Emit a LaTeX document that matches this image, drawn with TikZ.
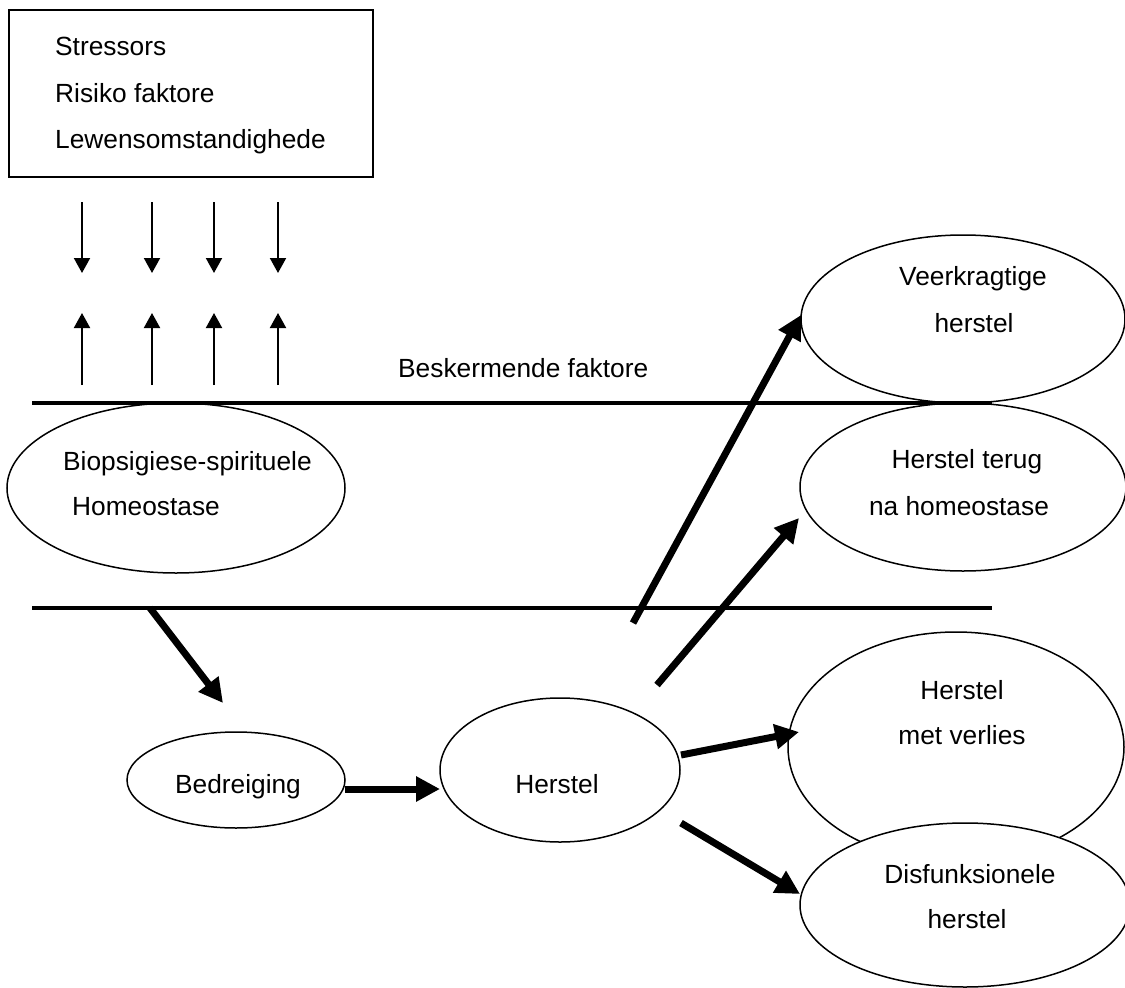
\documentclass[tikz,border=0pt]{standalone}
\usepackage{fontspec}
\setmainfont{Liberation Sans}
\usetikzlibrary{shapes.geometric,arrows.meta}
\begin{document}
\begin{tikzpicture}[x=1pt,y=-1pt,
  txt/.style={font=\fontsize{26.3}{31}\selectfont, inner sep=0pt},
  oval/.style={draw, ellipse, line width=1.5pt, fill=white, inner sep=0pt},
  rule/.style={line width=3.5pt},
  thinarrow/.style={line width=2pt, -{Triangle[length=15pt,width=16pt]}},
  thickarrow/.style={line width=7pt, -{Triangle[length=24pt,width=24pt]}}]
\useasboundingbox (0,0) rectangle (1125,988);

% top box
\node[draw, line width=1.5pt, minimum width=364pt, minimum height=167pt, anchor=north west, inner sep=0pt] (box) at (8,9) {};
\node[txt, anchor=base west] (t1) at (55,55) {Stressors};
\node[txt, anchor=base west] (t2) at (55,102) {Risiko faktore};
\node[txt, anchor=base west] (t3) at (55,148) {Lewensomstandighede};

% ellipses
\node[oval, minimum width=338pt, minimum height=170pt] (bio) at (176,488) {};
\node[oval, minimum width=324pt, minimum height=168pt] (veer) at (963,319) {};
\node[oval, minimum width=326pt, minimum height=168pt] (terug) at (963,487) {};
\node[oval, minimum width=336pt, minimum height=230pt] (verlies) at (956,747) {};
\node[oval, minimum width=330pt, minimum height=164pt] (disf) at (965,905) {};
\node[oval, minimum width=218pt, minimum height=96pt] (bed) at (236,780) {};
\node[oval, minimum width=240pt, minimum height=144pt] (her) at (560,770) {};

% texts
\node[txt, anchor=base west] (bio1) at (63,470) {Biopsigiese-spirituele};
\node[txt, anchor=base west] (bio2) at (72,515) {Homeostase};
\node[txt, anchor=base west] (besk) at (398,377) {Beskermende faktore};
\node[txt, anchor=base] (veer1) at (973,285) {Veerkragtige};
\node[txt, anchor=base] (veer2) at (974,332) {herstel};
\node[txt, anchor=base] (terug1) at (967,468) {Herstel terug};
\node[txt, anchor=base] (terug2) at (959,515) {na homeostase};
\node[txt, anchor=base] (verl1) at (962,699) {Herstel};
\node[txt, anchor=base] (verl2) at (962,744) {met verlies};
\node[txt, anchor=base] (disf1) at (970,883) {Disfunksionele};
\node[txt, anchor=base] (disf2) at (967,928) {herstel};
\node[txt, anchor=base] (bedt) at (238,793) {Bedreiging};
\node[txt, anchor=base] (hert) at (557,793) {Herstel};

% horizontal rules
\coordinate (l1a) at (32,403);
\coordinate (l1b) at (992,403);
\coordinate (l2a) at (32,608);
\coordinate (l2b) at (992,608);
\draw[rule] (l1a) -- (l1b);
\draw[rule] (l2a) -- (l2b);

% thin arrows
\foreach \x [count=\i] in {82,152,214,278} {
  \coordinate (ds\i) at (\x,202);
  \coordinate (de\i) at (\x,273);
  \coordinate (us\i) at (\x,385);
  \coordinate (ue\i) at (\x,313);
  \draw[thinarrow] (ds\i) -- (de\i);
  \draw[thinarrow] (us\i) -- (ue\i);
}

% thick arrows
\coordinate (a1s) at (150,608);  \coordinate (a1e) at (223,703);
\coordinate (a2s) at (345,789);  \coordinate (a2e) at (440,789);
\coordinate (a3s) at (633,623);  \coordinate (a3e) at (801,315);
\coordinate (a4s) at (657,685);  \coordinate (a4e) at (799,518);
\coordinate (a5s) at (681,755);  \coordinate (a5e) at (799,732);
\coordinate (a6s) at (681,823);  \coordinate (a6e) at (800,894);
\draw[thickarrow] (a1s) -- (a1e);
\draw[thickarrow] (a2s) -- (a2e);
\draw[thickarrow] (a3s) -- (a3e);
\draw[thickarrow] (a4s) -- (a4e);
\draw[thickarrow] (a5s) -- (a5e);
\draw[thickarrow] (a6s) -- (a6e);
\end{tikzpicture}
\end{document}
